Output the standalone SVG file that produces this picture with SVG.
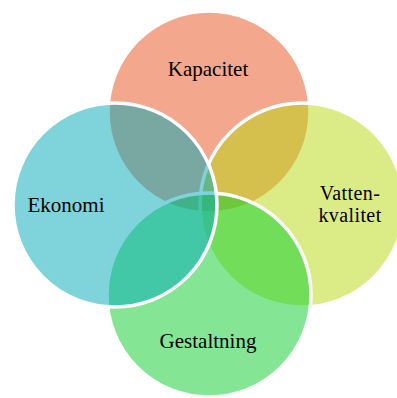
<svg xmlns="http://www.w3.org/2000/svg" width="397" height="398" viewBox="0 0 397 398">
<style>
.c{fill-opacity:0.5;stroke:#fff;stroke-width:3.5}
.t{font-family:"Liberation Serif","Times New Roman",serif;font-size:21px;fill:#000;text-anchor:middle}
.s{font-size:20px}
</style>
<rect width="397" height="398" fill="#fff"/>
<g id="kapacitet">
<circle class="c" cx="209" cy="112" r="101" fill="#E74F19"/>
<text class="t" x="208" y="76">Kapacitet</text>
</g>
<g id="vattenkvalitet">
<circle class="c" cx="302" cy="205" r="102" fill="#B7D90F"/>
<text class="t s" x="350" y="200" letter-spacing="0.4">Vatten-</text>
<text class="t s" x="350" y="222" letter-spacing="0.4">kvalitet</text>
</g>
<g id="gestaltning">
<circle class="c" cx="209" cy="295" r="102" fill="#09CD29"/>
<text class="t" x="208" y="348">Gestaltning</text>
</g>
<g id="ekonomi">
<circle class="c" cx="115" cy="205" r="102" fill="#00A9B9"/>
<text class="t" x="66" y="212">Ekonomi</text>
</g>
</svg>
